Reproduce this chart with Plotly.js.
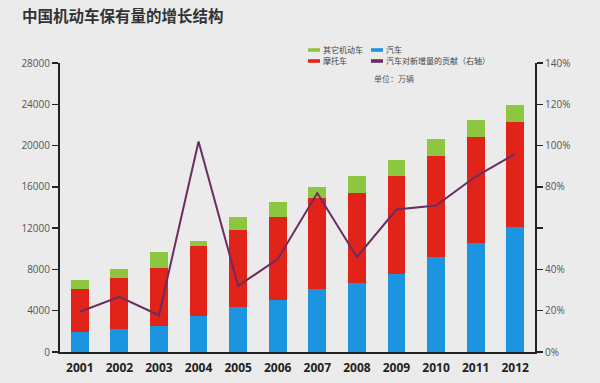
<!DOCTYPE html>
<html>
<head>
<meta charset="utf-8">
<script src="https://cdn.plot.ly/plotly-3.0.1.min.js"></script>
<style>
html,body{margin:0;padding:0;background:#ebebeb;}
#chart{width:600px;height:383px;}
</style>
</head>
<body>
<div id="chart"></div>
<script>
const years = ["2001","2002","2003","2004","2005","2006","2007","2008","2009","2010","2011","2012"];
const cars = [1950, 2250, 2500, 3470, 4340, 5015, 6115, 6700, 7570, 9180, 10570, 12080];
const motorcycles = [4200, 4900, 5650, 6770, 7520, 8075, 8810, 8710, 9450, 9840, 10260, 10200];
const otherVehicles = [800, 850, 1580, 520, 1230, 1450, 1025, 1610, 1615, 1620, 1650, 1650];
const carContribution = [0.195, 0.267, 0.178, 1.02, 0.32, 0.45, 0.77, 0.46, 0.69, 0.71, 0.85, 0.96];
const leftTicks = [0, 4000, 8000, 12000, 16000, 20000, 24000, 28000];
const rightTicks = [0, 0.2, 0.4, 0.6, 0.8, 1.0, 1.2, 1.4];
const rightTickText = ["0%", "20%", "40%", "", "80%", "100%", "120%", "140%"];
const names = {other: "其它机动车", moto: "摩托车", car: "汽车", contrib: "汽车对新增量的贡献（右轴）"};
const titleText = "中国机动车保有量的增长结构";
const unitText = "单位：万辆";

const colors = {car: "#1b95e0", moto: "#e2231a", other: "#8dc63f", line: "#6b2c5f"};

const traces = [
  {type: "bar", x: years, y: cars, name: names.car, marker: {color: colors.car}, showlegend: false, hoverinfo: "y"},
  {type: "bar", x: years, y: motorcycles, name: names.moto, marker: {color: colors.moto}, showlegend: false, hoverinfo: "y"},
  {type: "bar", x: years, y: otherVehicles, name: names.other, marker: {color: colors.other}, showlegend: false, hoverinfo: "y"},
  {type: "scatter", mode: "lines", x: years, y: carContribution, yaxis: "y2", name: names.contrib,
   line: {color: colors.line, width: 2}, showlegend: false}
];

// legend (swatches + labels)
const legendItems = [
  {label: names.other, color: colors.other, x: 308, y: 50},
  {label: names.car, color: colors.car, x: 371, y: 50},
  {label: names.moto, color: colors.moto, x: 308, y: 61},
  {label: names.contrib, color: colors.line, x: 371, y: 61}
];
const W = 600, H = 383;
const mL = 60, mR = 65, mT = 63, mB = 31;
const pw = W - mL - mR, ph = H - mT - mB;
function px2x(px){ return (px - mL) / pw; }
function py2y(py){ return (H - mB - py) / ph; }

const shapes = legendItems.map(it => ({
  type: "rect", xref: "paper", yref: "paper",
  x0: px2x(it.x), x1: px2x(it.x + 12),
  y0: py2y(it.y + 1.8), y1: py2y(it.y - 1.8),
  fillcolor: it.color, line: {width: 0}
}));
const annotations = legendItems.map(it => ({
  xref: "paper", yref: "paper", x: px2x(it.x + 13), y: py2y(it.y),
  xanchor: "left", yanchor: "middle", showarrow: false, text: it.label,
  font: {family: "Noto Sans CJK SC", size: 8, color: "#444"}
}));
annotations.push({
  xref: "paper", yref: "paper", x: px2x(372), y: py2y(78),
  xanchor: "left", yanchor: "middle", showarrow: false, text: unitText,
  font: {family: "Noto Sans CJK SC", size: 8, color: "#555"}
});

const layout = {
  width: W, height: H,
  paper_bgcolor: "#ebebeb", plot_bgcolor: "rgba(0,0,0,0)",
  margin: {l: mL, r: mR, t: mT, b: mB, pad: 0},
  title: {text: "<b>" + titleText + "</b>", x: 22 / W, xanchor: "left", y: 1 - 17 / H, yanchor: "middle",
          font: {family: "Noto Sans CJK SC", size: 15.5, color: "#333"}},
  barmode: "stack", bargap: 0.55,
  xaxis: {type: "category", range: [-0.5, 11.5], showline: true, linecolor: "#222", linewidth: 2,
          ticks: "", showgrid: false, zeroline: false, ticklabelstandoff: 4,
          tickfont: {family: "Open Sans", size: 12, color: "#222", weight: "bold"}},
  yaxis: {range: [0, 28000], tickvals: leftTicks, tickformat: "d", showline: true, linecolor: "#222", linewidth: 2,
          ticks: "outside", ticklen: 6, tickwidth: 1.5, tickcolor: "#222", showgrid: false, zeroline: false,
          tickfont: {family: "Open Sans", size: 10, color: "#555"}},
  yaxis2: {overlaying: "y", side: "right", range: [0, 1.4], tickvals: rightTicks, ticktext: rightTickText,
           showline: true, linecolor: "#222", linewidth: 2, ticks: "outside", ticklen: 6, tickwidth: 1.5,
           tickcolor: "#222", showgrid: false, zeroline: false,
           tickfont: {family: "Open Sans", size: 10, color: "#555"}},
  shapes: shapes,
  annotations: annotations
};

Plotly.newPlot("chart", traces, layout, {displayModeBar: false, staticPlot: true});
</script>
</body>
</html>
